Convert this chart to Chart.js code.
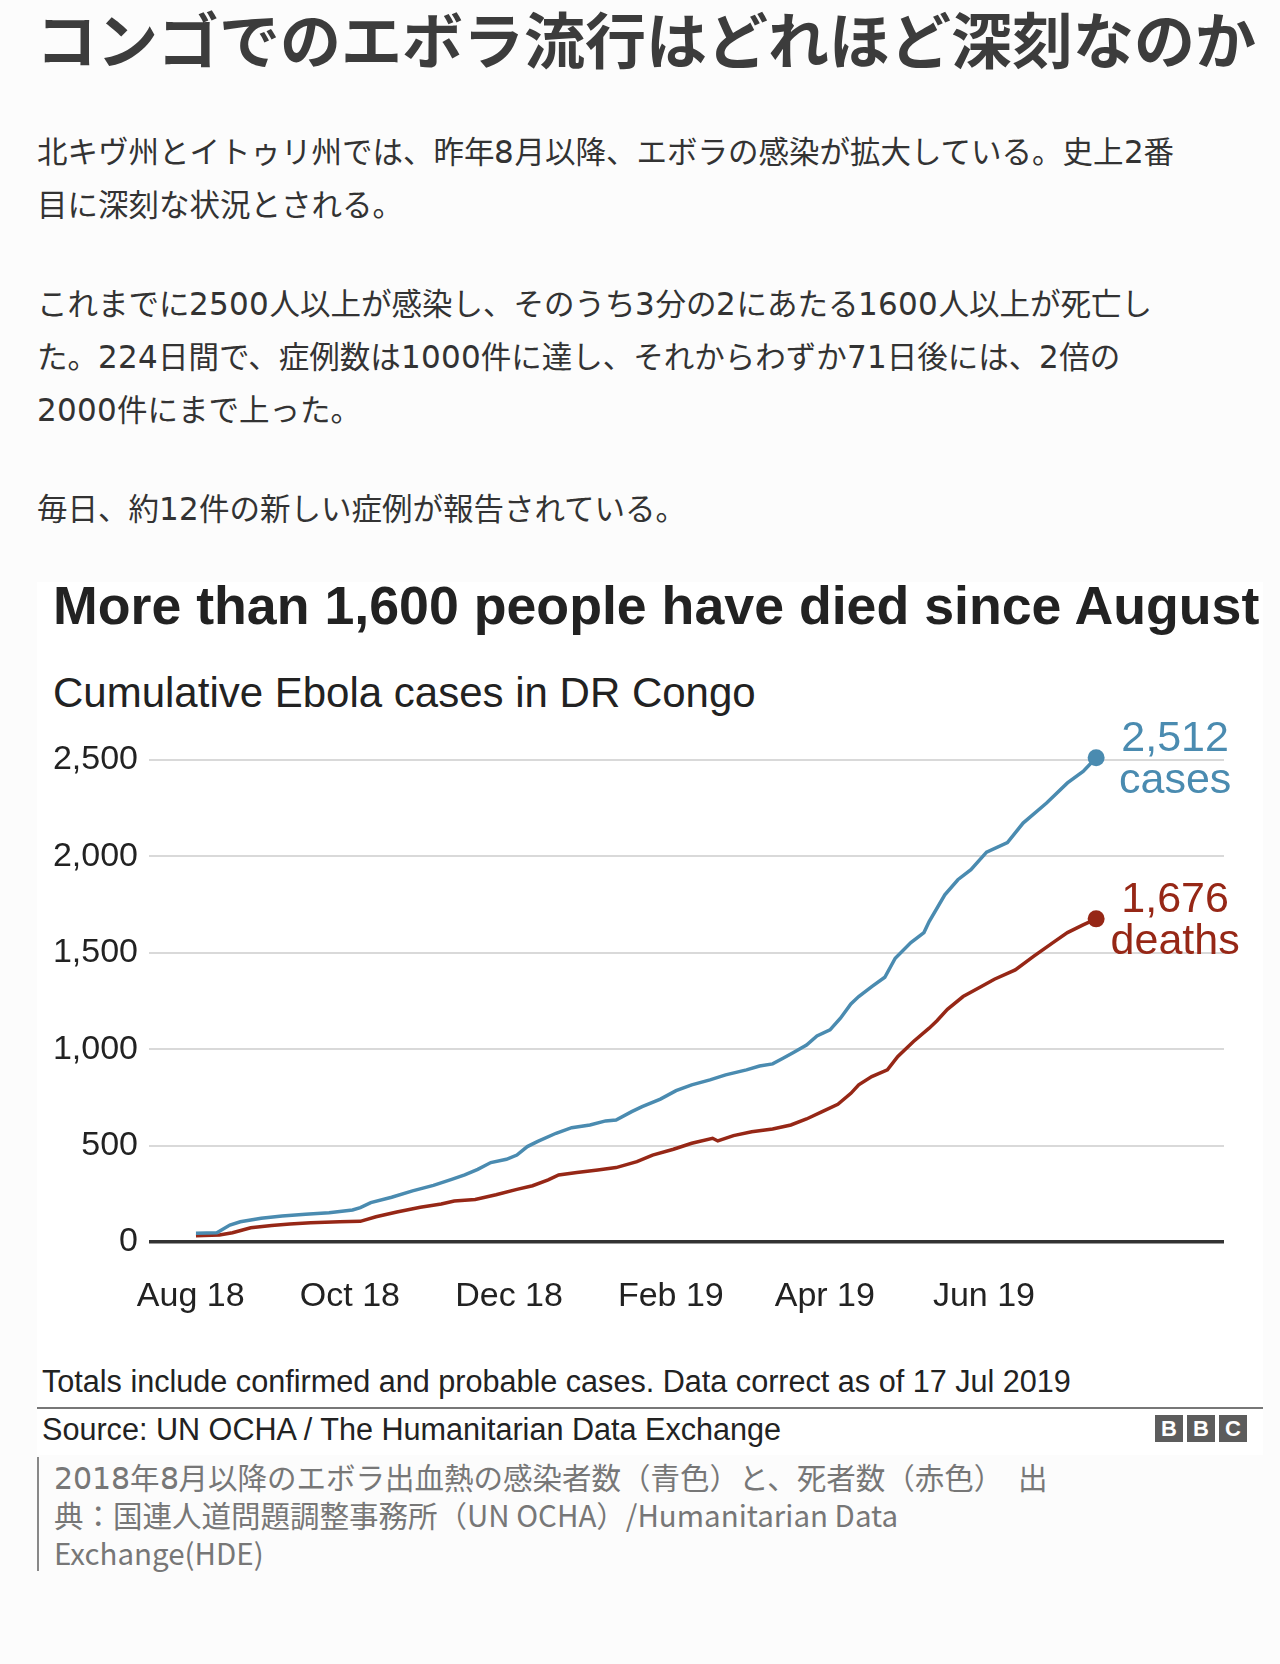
<!DOCTYPE html>
<html lang="ja">
<head>
<meta charset="utf-8">
<title>コンゴでのエボラ流行はどれほど深刻なのか</title>
<script src="https://cdn.jsdelivr.net/npm/chart.js@4.4.1/dist/chart.umd.min.js"></script>
<style>
  @font-face { font-family: "JpDigits"; src: local("DejaVu Sans"); unicode-range: U+0030-0039; }
  body { margin: 0; width: 1280px; height: 1664px; background: #fcfcfc; position: relative; overflow: hidden;
         font-family: "Noto Sans CJK JP", sans-serif; color: #333; }
  .abs { position: absolute; }
  h1 { position: absolute; left: 36px; top: 6px; margin: 0; font-size: 61px; line-height: 64px; font-weight: 700; color: #3c3c3c; white-space: nowrap; }
  .para { position: absolute; left: 37px; font-family: "JpDigits", "Noto Sans CJK JP", sans-serif; font-size: 30.5px; line-height: 53px; color: #333; white-space: nowrap; }
  #block { position: absolute; left: 37px; top: 582px; width: 1226px; height: 873px; background: #fff; }
  .en { font-family: "Liberation Sans", Arial, sans-serif; color: #222; white-space: nowrap; }
  #head { left: 53px; top: 579px; font-size: 53.7px; line-height: 53.7px; font-weight: 700; }
  #sub { left: 53px; top: 672px; font-size: 42px; line-height: 42px; }
  #note { left: 42px; top: 1366px; font-size: 30.6px; line-height: 30.6px; }
  #rule { left: 37px; top: 1407px; width: 1226px; height: 2px; background: #777; }
  #source { left: 42px; top: 1414px; font-size: 30.6px; line-height: 30.6px; }
  #bbc { left: 1155px; top: 1415px; display: flex; gap: 4px; }
  #bbc span { width: 28px; height: 27px; background: #5c5c5c; color: #fff; font: 700 22px/27px "Liberation Sans", Arial, sans-serif; text-align: center; }
  #caption { left: 37px; top: 1457px; padding-left: 15px; border-left: 2px solid #888; font-family: "JpDigits", "Noto Sans CJK JP", sans-serif;
             font-size: 29.5px; line-height: 38px; color: #777; white-space: nowrap; }
  #wrap { position: absolute; left: 0; top: 720px; width: 1280px; height: 620px; }
</style>
</head>
<body>
<h1>コンゴでのエボラ流行はどれほど深刻なのか</h1>
<div class="para" style="top:124px">北キヴ州とイトゥリ州では、昨年8月以降、エボラの感染が拡大している。史上2番<br>目に深刻な状況とされる。</div>
<div class="para" style="top:276px">これまでに2500人以上が感染し、そのうち3分の2にあたる1600人以上が死亡し<br>た。224日間で、症例数は1000件に達し、それからわずか71日後には、2倍の<br>2000件にまで上った。</div>
<div class="para" style="top:481px">毎日、約12件の新しい症例が報告されている。</div>

<div id="block"></div>
<div id="head" class="abs en">More than 1,600 people have died since August</div>
<div id="sub" class="abs en">Cumulative Ebola cases in DR Congo</div>
<div id="wrap"><canvas id="plot"></canvas></div>
<div id="note" class="abs en">Totals include confirmed and probable cases. Data correct as of 17 Jul 2019</div>
<div id="rule" class="abs"></div>
<div id="source" class="abs en">Source: UN OCHA / The Humanitarian Data Exchange</div>
<div id="bbc" class="abs"><span>B</span><span>B</span><span>C</span></div>
<div id="caption" class="abs">2018年8月以降のエボラ出血熱の感染者数（青色）と、死者数（赤色）　出<br>典：国連人道問題調整事務所（UN OCHA）/Humanitarian Data<br>Exchange(HDE)</div>

<script>
// 累計症例数（青）
const caseDates = ['2018-08-03','2018-08-11','2018-08-16','2018-08-20','2018-08-28','2018-09-05','2018-09-14','2018-09-23',
  '2018-10-02','2018-10-05','2018-10-09','2018-10-17','2018-10-25','2018-11-02','2018-11-09','2018-11-14','2018-11-19',
  '2018-11-24','2018-11-30','2018-12-04','2018-12-08','2018-12-12','2018-12-19','2018-12-25','2019-01-01','2019-01-07',
  '2019-01-11','2019-01-17','2019-01-21','2019-01-28','2019-02-03','2019-02-09','2019-02-16','2019-02-22','2019-03-02',
  '2019-03-07','2019-03-12','2019-03-16','2019-03-20','2019-03-25','2019-03-29','2019-04-03','2019-04-07','2019-04-11',
  '2019-04-14','2019-04-19','2019-04-24','2019-04-28','2019-05-04','2019-05-09','2019-05-11','2019-05-17','2019-05-22',
  '2019-05-27','2019-06-02','2019-06-10','2019-06-16','2019-06-25','2019-07-03','2019-07-09','2019-07-14'];
const caseCounts = [45,48,88,105,123,135,144,152,166,178,204,232,265,294,325,348,377,412,429,451,495,522,564,593,607,628,
  633,676,702,741,785,815,841,867,893,913,924,953,983,1022,1069,1100,1161,1235,1273,1325,1373,1472,1553,1605,1662,1801,
  1879,1931,2022,2072,2173,2277,2381,2441,2512];

// 累計死者数（赤）
const deathDates = ['2018-08-03','2018-08-12','2018-08-17','2018-08-24','2018-09-01','2018-09-08','2018-09-16','2018-09-27',
  '2018-10-05','2018-10-11','2018-10-19','2018-10-28','2018-11-05','2018-11-10','2018-11-18','2018-11-26','2018-12-04',
  '2018-12-10','2018-12-16','2018-12-20','2018-12-27','2019-01-04','2019-01-11','2019-01-19','2019-01-25','2019-02-02',
  '2019-02-09','2019-02-17','2019-02-19','2019-02-25','2019-03-04','2019-03-12','2019-03-19','2019-03-25','2019-03-31',
  '2019-04-06','2019-04-11','2019-04-14','2019-04-19','2019-04-25','2019-04-29','2019-05-05','2019-05-11','2019-05-14',
  '2019-05-18','2019-05-24','2019-05-31','2019-06-05','2019-06-13','2019-06-20','2019-06-28','2019-07-03','2019-07-09',
  '2019-07-14'];
const deathCounts = [33,36,48,74,85,93,100,105,107,131,156,180,197,213,221,245,273,292,322,348,360,374,386,417,451,481,
  512,538,524,552,572,586,607,638,676,714,771,815,858,893,962,1040,1109,1148,1207,1273,1325,1363,1411,1481,1558,1605,
  1645,1676];

const tickDates = ['2018-08-01','2018-10-01','2018-12-01','2019-02-01','2019-04-01','2019-06-01'];
const tickLabels = ['Aug 18','Oct 18','Dec 18','Feb 19','Apr 19','Jun 19'];
const yTicks = [0, 500, 1000, 1500, 2000, 2500];

const blue = '#4a8bb0';
const red = '#962716';

let toDay = d => (Date.parse(d) - Date.parse('2018-08-01')) / 86400000;
let toPoints = (dates, vals) => dates.map((d, i) => ({x: toDay(d), y: vals[i]}));

let endDot = ctx => ctx.dataIndex === ctx.dataset.data.length - 1 ? 8.5 : 0;

// 末尾のラベル
let endLabels = {
  id: 'endLabels',
  beforeDatasetsDraw(chart) {
    let c = chart.ctx;
    c.save();
    c.fillStyle = '#fff';
    c.fillRect(1112, 712, 140, 90);
    c.fillRect(1104, 875, 140, 90);
    c.restore();
  },
  afterDatasetsDraw(chart) {
    let c = chart.ctx;
    let texts = [[caseCounts, 'cases', blue], [deathCounts, 'deaths', red]];
    c.save();
    c.font = '43px "Liberation Sans", Arial, sans-serif';
    c.textAlign = 'center';
    c.textBaseline = 'middle';
    texts.forEach((t, i) => {
      let meta = chart.getDatasetMeta(i);
      let p = meta.data[meta.data.length - 1];
      c.fillStyle = t[2];
      c.fillText(t[0][t[0].length - 1].toLocaleString('en-US'), p.x + 79, p.y - 19);
      c.fillText(t[1], p.x + 79, p.y + 23);
    });
    c.restore();
  }
};

new Chart(document.getElementById('plot'), {
  type: 'line',
  data: {
    datasets: [
      {label: 'cases', data: toPoints(caseDates, caseCounts), borderColor: blue, backgroundColor: blue,
       borderWidth: 3.5, pointRadius: endDot, pointBorderWidth: 0, tension: 0, clip: false},
      {label: 'deaths', data: toPoints(deathDates, deathCounts), borderColor: red, backgroundColor: red,
       borderWidth: 3.5, pointRadius: endDot, pointBorderWidth: 0, tension: 0, clip: false}
    ]
  },
  options: {
    responsive: true,
    maintainAspectRatio: false,
    animation: false,
    layout: {padding: {left: 0, right: 56, top: 40, bottom: 0}},
    plugins: {legend: {display: false}, tooltip: {enabled: false}},
    scales: {
      x: {
        type: 'linear', min: -16, max: 396,
        grid: {display: false}, border: {display: false},
        afterBuildTicks: s => { s.ticks = tickDates.map(d => ({value: toDay(d)})); },
        afterFit: s => { s.height = 98; },
        ticks: {
          autoSkip: false, maxRotation: 0, padding: 26, color: '#222',
          font: {family: '"Liberation Sans", Arial, sans-serif', size: 34},
          callback: (v, i) => tickLabels[i]
        }
      },
      y: {
        min: 0, max: 2500,
        border: {display: false},
        afterBuildTicks: s => { s.ticks = yTicks.map(v => ({value: v})); },
        afterFit: s => { s.width = 149; },
        grid: {
          drawTicks: false,
          color: c => c.tick.value === 0 ? '#333' : '#d9d9d9',
          lineWidth: c => c.tick.value === 0 ? 3.5 : 2
        },
        ticks: {
          padding: 11, color: '#222',
          font: {family: '"Liberation Sans", Arial, sans-serif', size: 34},
          callback: v => v.toLocaleString('en-US')
        }
      }
    }
  },
  plugins: [endLabels]
});
</script>
</body>
</html>
